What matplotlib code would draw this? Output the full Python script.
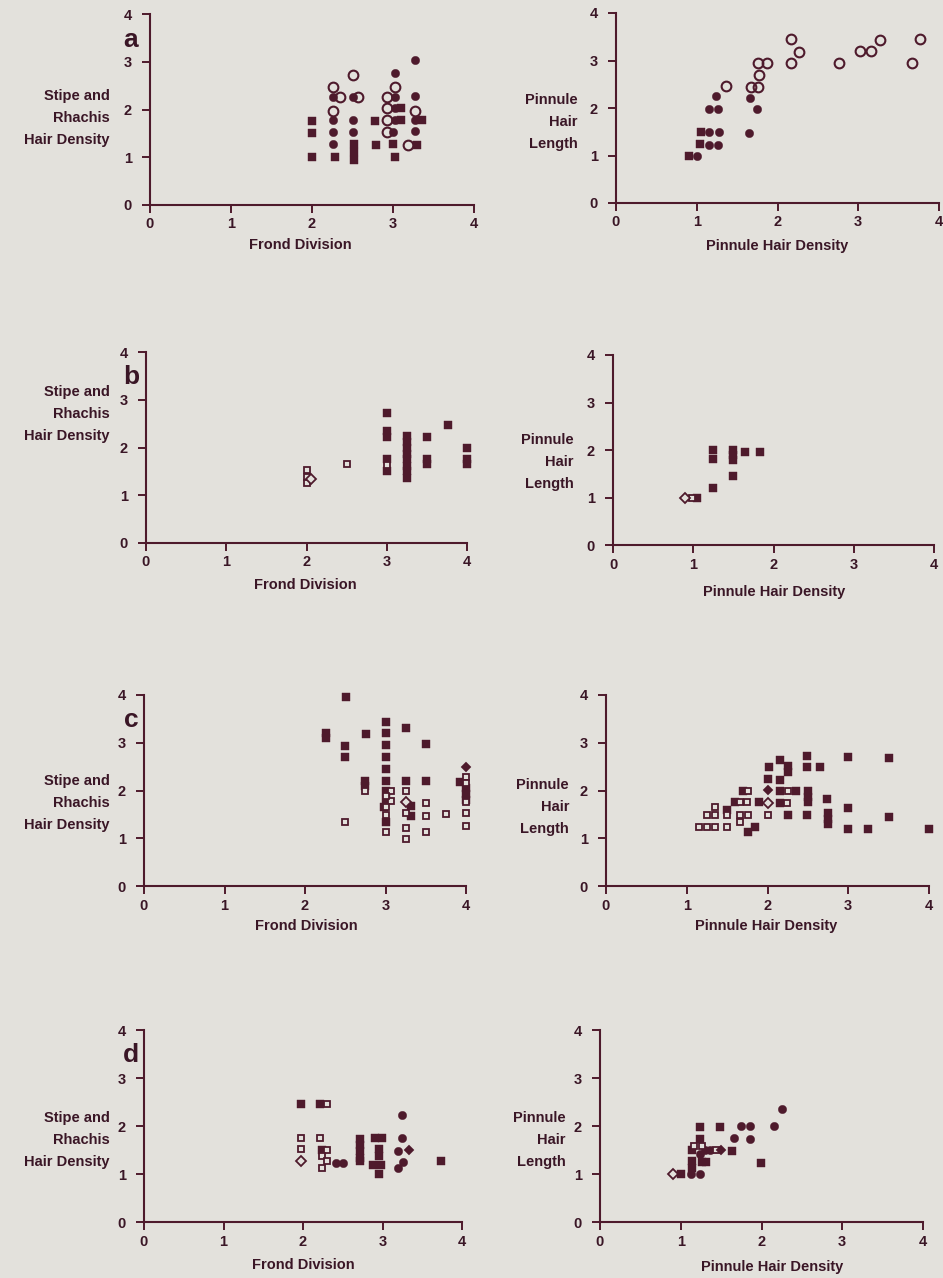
import matplotlib
matplotlib.use("Agg")
import matplotlib.pyplot as plt

W, H = 943, 1278
BG = "#e3e1dc"
INK = "#4e1a2c"
TXT = "#3a1626"

# --- data: (x, y) per marker type ---
# sq = filled square, osq = open square, ci = filled circle,
# oci = open circle, di = filled diamond, odi = open diamond

a_left_sq = [(2.0, 1.75), (2.0, 1.5), (2.0, 1.0), (2.28, 1.0), (2.52, 1.28), (2.52, 1.12),
             (2.52, 0.94), (2.78, 1.76), (2.79, 1.26), (3.0, 1.28), (3.02, 1.0), (3.1, 2.03),
             (3.1, 1.78), (3.36, 1.78), (3.3, 1.26)]
a_left_ci = [(2.26, 2.27), (2.26, 1.78), (2.26, 1.52), (2.26, 1.28), (2.51, 2.27), (2.51, 1.78),
             (2.51, 1.52), (3.02, 2.76), (3.02, 2.27), (3.02, 2.03), (3.02, 1.78), (3.0, 1.53),
             (3.27, 3.04), (3.27, 2.29), (3.27, 1.78), (3.27, 1.55)]
a_left_oci = [(2.26, 2.48), (2.34, 2.27), (2.26, 1.97), (2.51, 2.72), (2.57, 2.27), (2.93, 2.27),
              (3.02, 2.48), (2.93, 2.03), (2.93, 1.78), (2.93, 1.53), (3.27, 1.97), (3.19, 1.26)]

a_right_sq = [(0.9, 1.0), (1.05, 1.5), (1.04, 1.24)]
a_right_ci = [(1.0, 1.0), (1.15, 1.5), (1.27, 1.5), (1.15, 1.23), (1.26, 1.23), (1.15, 1.98),
              (1.26, 1.98), (1.24, 2.25), (1.65, 1.47), (1.66, 2.22), (1.74, 1.98)]
a_right_oci = [(1.36, 2.46), (1.67, 2.45), (1.76, 2.45), (1.77, 2.69), (1.76, 2.95), (1.87, 2.95),
               (2.17, 2.95), (2.17, 3.46), (2.27, 3.18), (2.76, 2.94), (3.02, 3.19), (3.16, 3.2),
               (3.27, 3.43), (3.66, 2.94), (3.77, 3.45)]

b_left_sq = [(3.0, 2.73), (3.0, 2.35), (3.0, 2.22), (3.0, 1.75), (3.0, 1.5), (3.25, 2.25),
             (3.25, 2.12), (3.25, 2.0), (3.25, 1.87), (3.25, 1.75), (3.25, 1.62), (3.25, 1.5),
             (3.25, 1.37), (3.5, 2.22), (3.5, 1.75), (3.5, 1.65), (3.76, 2.47), (4.0, 1.98),
             (4.0, 1.75), (4.0, 1.65)]
b_left_osq = [(3.0, 1.63), (2.5, 1.66), (2.0, 1.52), (2.0, 1.39), (2.0, 1.26)]
b_left_odi = [(2.06, 1.34)]

b_right_sq = [(1.05, 0.98), (1.24, 1.21), (1.24, 2.01), (1.24, 1.82), (1.49, 2.0), (1.49, 1.9),
              (1.49, 1.8), (1.49, 1.46), (1.64, 1.96), (1.83, 1.96)]
b_right_osq = [(0.98, 0.98)]
b_right_odi = [(0.9, 0.98)]

c_left_sq = [(2.51, 3.95), (2.26, 3.2), (2.26, 3.1), (2.76, 3.18), (2.5, 2.94), (2.5, 2.71),
             (3.0, 3.43), (3.0, 3.2), (3.0, 2.95), (3.0, 2.7), (3.0, 2.45), (3.0, 2.2),
             (3.25, 3.3), (3.5, 2.97), (3.25, 2.2), (3.5, 2.2), (2.75, 2.2), (2.75, 2.1),
             (3.0, 2.0), (3.0, 1.82), (2.98, 1.66), (3.0, 1.33), (3.32, 1.68), (3.32, 1.47),
             (3.92, 2.18), (4.0, 2.05), (4.0, 1.92), (4.0, 1.8)]
c_left_osq = [(2.75, 1.98), (2.5, 1.33), (3.07, 2.0), (3.07, 1.77), (3.0, 1.88), (3.0, 1.65),
              (3.0, 1.49), (3.0, 1.14), (3.25, 2.0), (3.25, 1.52), (3.25, 1.22), (3.25, 0.98),
              (3.5, 1.74), (3.5, 1.47), (3.5, 1.14), (3.75, 1.51), (4.0, 2.29), (4.0, 2.16),
              (4.0, 1.75), (4.0, 1.52), (4.0, 1.26)]
c_left_di = [(4.0, 2.5)]
c_left_odi = [(3.25, 1.75)]

c_right_sq = [(1.5, 1.6), (1.76, 1.14), (1.85, 1.23), (1.6, 1.75), (1.7, 2.0), (1.9, 1.75),
              (2.0, 2.25), (2.02, 2.5), (2.16, 2.64), (2.16, 2.23), (2.25, 2.52), (2.25, 2.38),
              (2.15, 2.0), (2.35, 1.98), (2.15, 1.73), (2.25, 1.49), (2.49, 2.72), (2.49, 2.49),
              (2.65, 2.49), (2.5, 2.0), (2.5, 1.87), (2.5, 1.75), (2.49, 1.49), (2.74, 1.82),
              (2.75, 1.52), (2.75, 1.41), (2.75, 1.3), (3.0, 2.71), (3.0, 1.63), (3.0, 1.2),
              (3.25, 1.2), (3.5, 2.69), (3.5, 1.45), (4.0, 1.19)]
c_right_osq = [(1.15, 1.23), (1.25, 1.23), (1.35, 1.23), (1.5, 1.23), (1.25, 1.49), (1.35, 1.49),
               (1.5, 1.49), (1.66, 1.49), (1.76, 1.49), (2.0, 1.49), (1.35, 1.65), (1.66, 1.35),
               (1.66, 1.75), (1.74, 1.75), (1.76, 1.98), (2.25, 2.0), (2.24, 1.73)]
c_right_di = [(2.0, 2.01)]
c_right_odi = [(2.0, 1.73)]

d_left_sq = [(1.97, 2.46), (2.22, 2.46), (2.72, 1.72), (2.72, 1.6), (2.72, 1.48), (2.72, 1.34),
             (2.72, 1.28), (2.9, 1.75), (2.99, 1.75), (2.96, 1.52), (2.96, 1.38), (2.88, 1.18),
             (2.98, 1.18), (2.96, 0.99), (3.74, 1.27), (2.24, 1.5)]
d_left_osq = [(2.3, 2.46), (1.97, 1.76), (2.22, 1.75), (1.97, 1.52), (2.3, 1.5), (2.24, 1.38),
              (2.3, 1.27), (2.24, 1.13)]
d_left_ci = [(3.25, 2.23), (3.25, 1.75), (3.2, 1.47), (3.26, 1.25), (3.2, 1.13), (2.42, 1.23),
             (2.5, 1.23)]
d_left_di = [(3.33, 1.49)]
d_left_odi = [(1.97, 1.28)]

d_right_sq = [(1.0, 1.0), (1.14, 1.27), (1.14, 1.12), (1.26, 1.25), (1.31, 1.25), (1.14, 1.49),
              (1.64, 1.47), (1.24, 1.72), (1.24, 1.98), (1.49, 1.98), (1.99, 1.23)]
d_right_ci = [(1.13, 1.0), (1.24, 1.0), (1.24, 1.42), (1.3, 1.49), (1.36, 1.49), (1.75, 2.01),
              (1.86, 1.99), (2.16, 1.99), (2.26, 2.35), (1.66, 1.74), (1.86, 1.73)]
d_right_osq = [(1.16, 1.59), (1.26, 1.59), (1.44, 1.49)]
d_right_di = [(1.5, 1.49)]
d_right_odi = [(0.9, 0.99)]

ticks = [0, 1, 2, 3, 4]

STYLES = {
    "sq": dict(marker="s", ms=5.2, mfc=INK, mec=INK, mew=0.3),
    "ci": dict(marker="o", ms=6.0, mfc=INK, mec=INK, mew=0.3),
    "oci": dict(marker="o", ms=7.0, mfc="none", mec=INK, mew=1.5),
    "osq": dict(marker="s", ms=5.0, mfc=BG, mec=INK, mew=1.3),
    "di": dict(marker="D", ms=5.5, mfc=INK, mec=INK, mew=0.3),
    "odi": dict(marker="D", ms=5.5, mfc=BG, mec=INK, mew=1.3),
}

fig = plt.figure(figsize=(W / 100, H / 100), dpi=100)
fig.patch.set_facecolor(BG)
plt.rcParams["font.family"] = ["Liberation Sans", "DejaVu Sans"]


def px(x, y):
    return x / W, 1 - y / H


def panel(x0, x4, y0, y4, series, xlabel, xlab_pos):
    ax = fig.add_axes([x0 / W, 1 - y0 / H, (x4 - x0) / W, (y0 - y4) / H])
    ax.set_facecolor("none")
    for kind, pts in series:
        xs = [p[0] for p in pts]
        ys = [p[1] for p in pts]
        ax.plot(xs, ys, ls="none", clip_on=False, zorder=3, **STYLES[kind])
    ax.set_xlim(0, 4)
    ax.set_ylim(0, 4)
    ax.set_xticks(ticks)
    ax.set_yticks(ticks)
    for s in ["top", "right"]:
        ax.spines[s].set_visible(False)
    for s in ["left", "bottom"]:
        ax.spines[s].set_color(INK)
        ax.spines[s].set_linewidth(1.5)
    ax.tick_params(direction="out", length=6, width=1.4, color=INK,
                   labelcolor=TXT, labelsize=10.5)
    ax.tick_params(axis="x", pad=3)
    ax.tick_params(axis="y", pad=7)
    for lab in ax.get_xticklabels() + ax.get_yticklabels():
        lab.set_fontweight("bold")
    fx, fy = px(*xlab_pos)
    fig.text(fx, fy, xlabel, ha="center", va="center", fontsize=10.5,
             fontweight="bold", color=TXT)
    return ax


def ylab(text, x, y):
    fx, fy = px(x, y)
    fig.text(fx, fy, text, ha="right", va="center", multialignment="right",
             fontsize=10.5, fontweight="bold", color=TXT, linespacing=1.75)


# row a
panel(150, 474, 205, 14, [("sq", a_left_sq), ("ci", a_left_ci), ("oci", a_left_oci)],
      "Frond Division", (300, 245))
panel(616, 939, 203, 13, [("sq", a_right_sq), ("ci", a_right_ci), ("oci", a_right_oci)],
      "Pinnule Hair Density", (777, 246))
# row b
panel(146, 467, 543, 352, [("sq", b_left_sq), ("osq", b_left_osq), ("odi", b_left_odi)],
      "Frond Division", (305, 585))
panel(613, 934, 545, 355, [("sq", b_right_sq), ("osq", b_right_osq), ("odi", b_right_odi)],
      "Pinnule Hair Density", (774, 592))
# row c
panel(144, 466, 886, 695, [("sq", c_left_sq), ("osq", c_left_osq), ("di", c_left_di),
                           ("odi", c_left_odi)],
      "Frond Division", (306, 926))
panel(606, 929, 886, 695, [("sq", c_right_sq), ("osq", c_right_osq), ("di", c_right_di),
                           ("odi", c_right_odi)],
      "Pinnule Hair Density", (766, 926))
# row d
panel(144, 462, 1222, 1030, [("sq", d_left_sq), ("osq", d_left_osq), ("ci", d_left_ci),
                             ("di", d_left_di), ("odi", d_left_odi)],
      "Frond Division", (303, 1265))
panel(600, 923, 1222, 1030, [("sq", d_right_sq), ("ci", d_right_ci), ("osq", d_right_osq),
                             ("di", d_right_di), ("odi", d_right_odi)],
      "Pinnule Hair Density", (772, 1267))

for t, y in [("a", 40), ("b", 377), ("c", 720), ("d", 1055)]:
    fx, fy = px(131, y)
    fig.text(fx, fy, t, ha="center", va="center", fontsize=19, fontweight="bold", color=TXT)

ylab("Stipe and\nRhachis\nHair Density", 110, 118)
ylab("Stipe and\nRhachis\nHair Density", 110, 414)
ylab("Stipe and\nRhachis\nHair Density", 110, 803)
ylab("Stipe and\nRhachis\nHair Density", 110, 1140)
ylab("Pinnule\nHair\nLength", 578, 122)
ylab("Pinnule\nHair\nLength", 574, 462)
ylab("Pinnule\nHair\nLength", 569, 807)
ylab("Pinnule\nHair\nLength", 566, 1140)

fig.savefig("out.png", dpi=100, facecolor=BG)
